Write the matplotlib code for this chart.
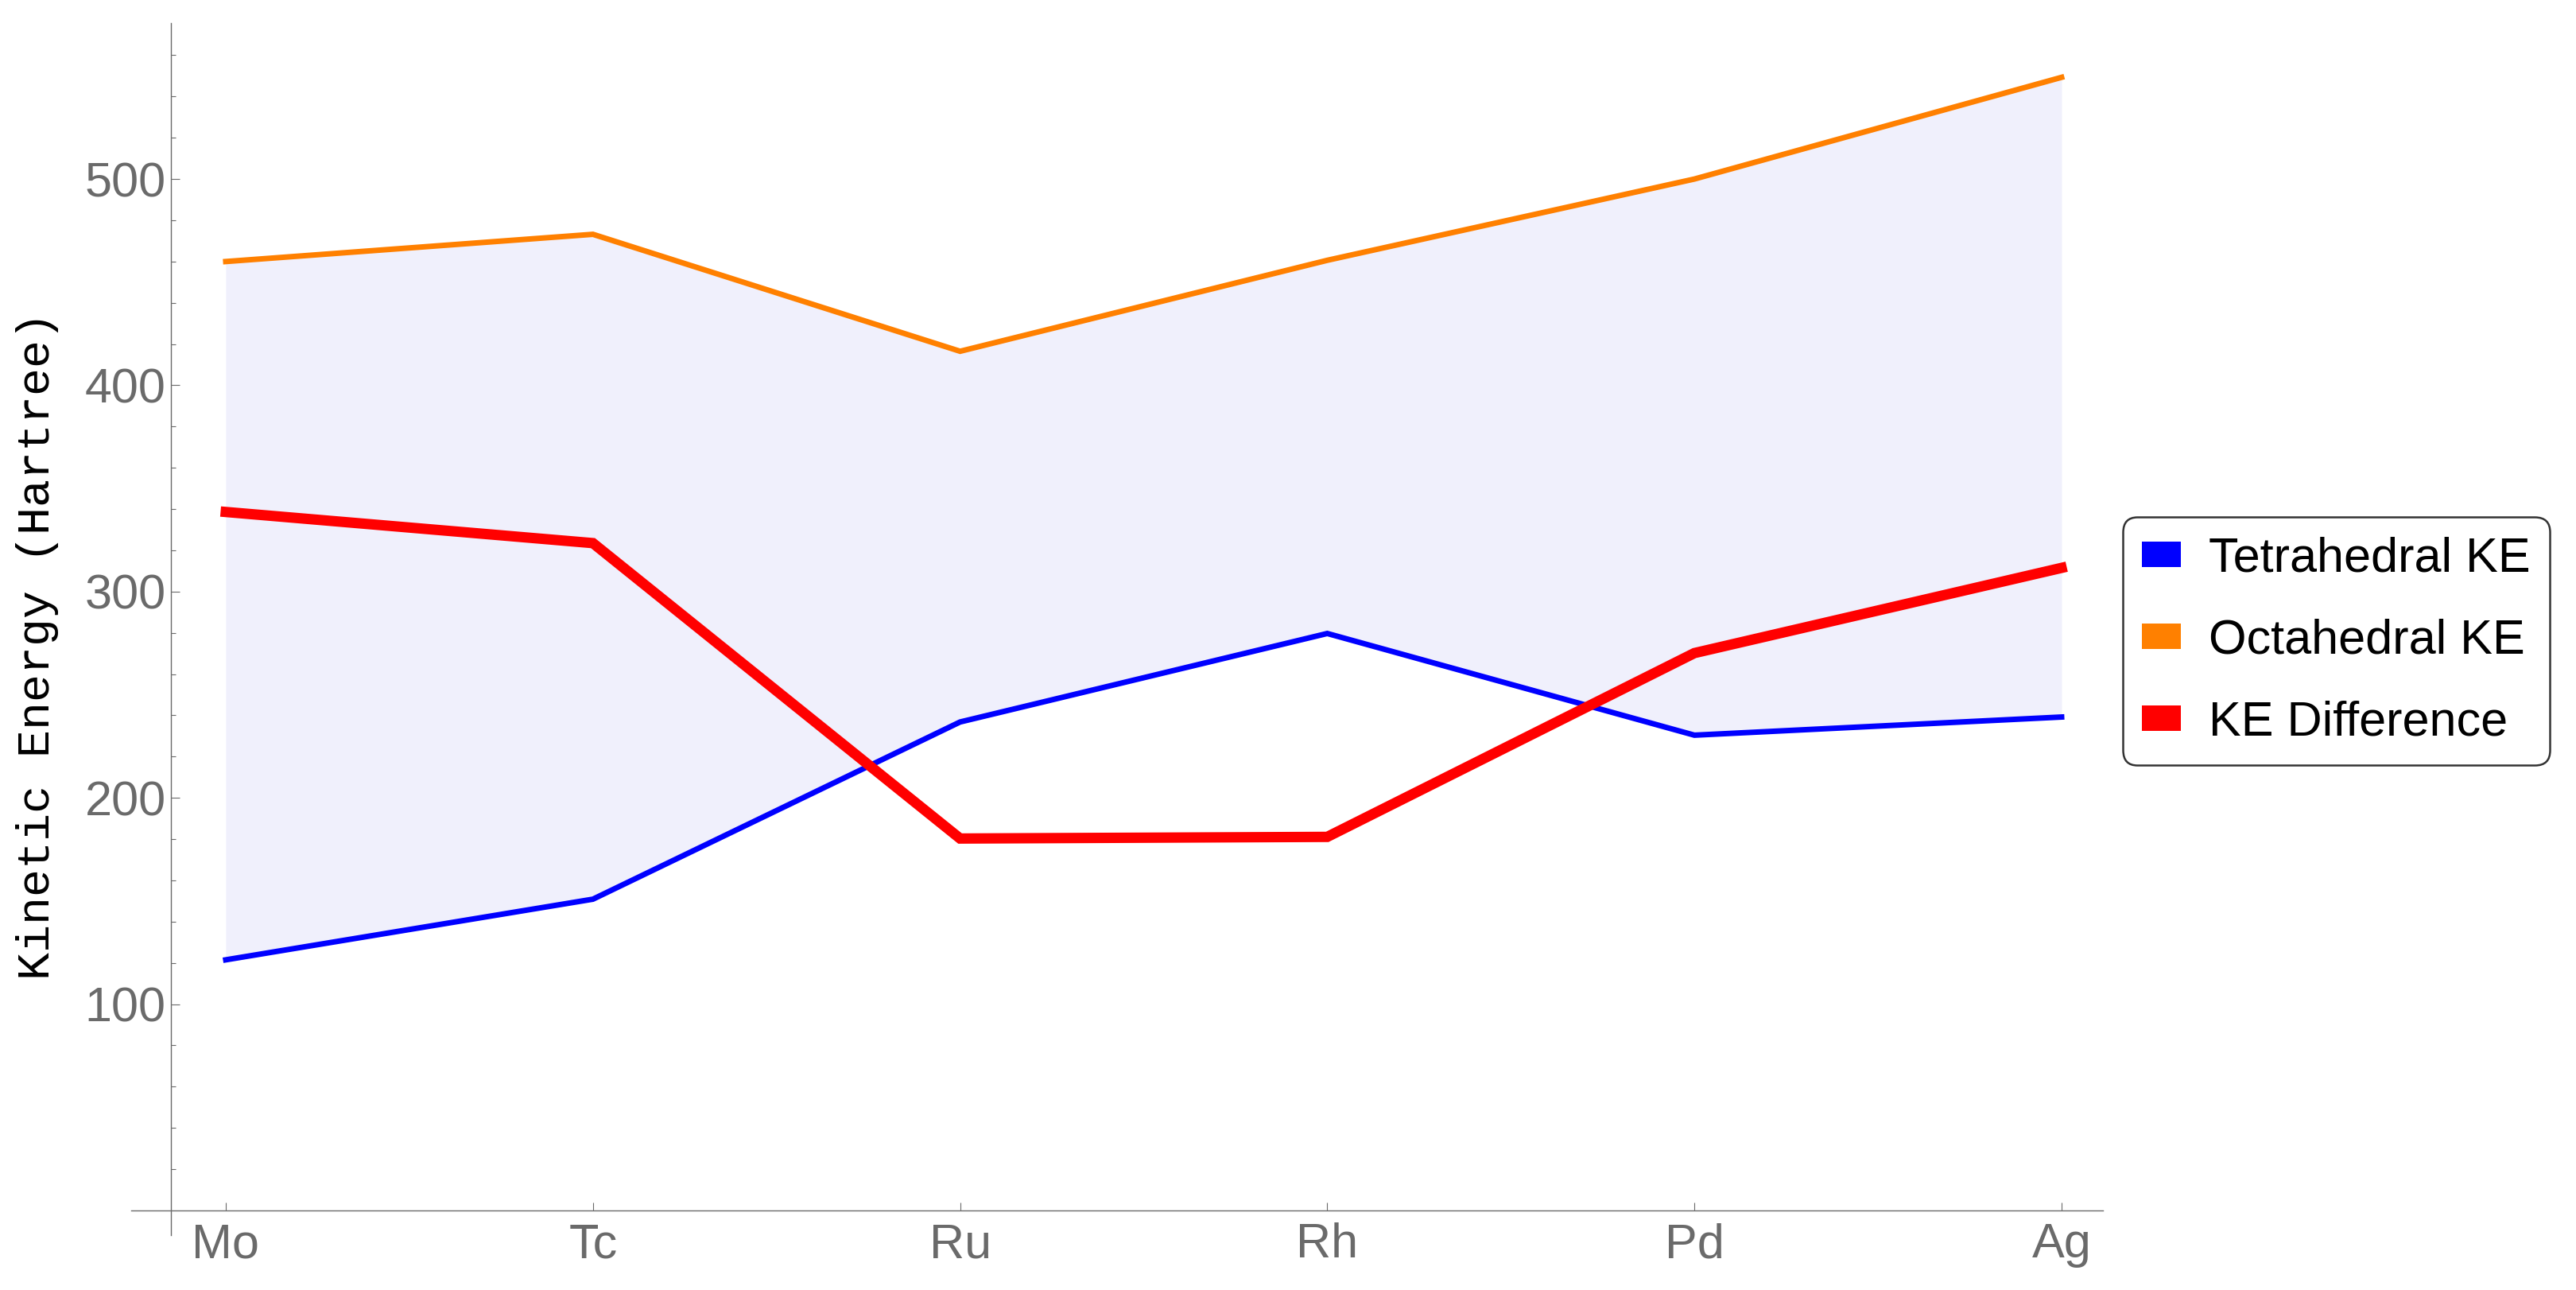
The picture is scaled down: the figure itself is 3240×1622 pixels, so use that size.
import numpy as np
import matplotlib
matplotlib.use("Agg")
import matplotlib.pyplot as plt
from matplotlib.patches import Patch

# data
elements = ['Mo', 'Tc', 'Ru', 'Rh', 'Pd', 'Ag']
tetra_ke = [121.5, 150.9, 236.8, 279.7, 230.4, 239.2]
octa_ke = [460.0, 473.2, 416.5, 460.6, 500.0, 549.3]
ke_diff = [338.6, 323.5, 180.3, 181.1, 270.2, 311.5]

y_major = [100, 200, 300, 400, 500]
y_minor = [v for v in range(20, 561, 20) if v % 100 != 0]

plt.rcParams['font.family'] = ['Liberation Sans', 'DejaVu Sans']
gray = '#6a6a6a'

fig = plt.figure(figsize=(32.4, 16.22), dpi=100)
ax = fig.add_axes([165 / 3240, 1 - 1553 / 1622, 2480 / 3240, 1524 / 1622])

x = np.arange(len(elements))
ax.fill_between(x, tetra_ke, octa_ke, color='#F0F0FC', lw=0, zorder=1)
ax.plot(x, tetra_ke, color='#0000FF', lw=5, solid_capstyle='projecting',
        solid_joinstyle='miter', zorder=3)
ax.plot(x, octa_ke, color='#FF8000', lw=5, solid_capstyle='projecting',
        solid_joinstyle='miter', zorder=3)
ax.plot(x, ke_diff, color='#FF0000', lw=9.4, solid_capstyle='projecting',
        solid_joinstyle='miter', zorder=4)

ax.set_xlim(-0.2576, 5.1126)
ax.set_ylim(-11.95, 575.6)

for s in ['top', 'right']:
    ax.spines[s].set_visible(False)
ax.spines['left'].set_position(('data', -0.1494))
ax.spines['bottom'].set_position(('data', 0))
for s in ['left', 'bottom']:
    ax.spines[s].set_color(gray)
    ax.spines[s].set_linewidth(1.0)

ax.set_xticks(x)
ax.set_xticklabels(elements)
ax.set_yticks(y_major)
ax.set_yticks(y_minor, minor=True)
ax.tick_params(axis='x', direction='in', length=7.2, width=0.8, color=gray,
               labelcolor=gray, labelsize=44, pad=11)
ax.tick_params(axis='y', which='major', direction='in', length=7.9, width=0.8,
               color=gray, labelcolor=gray, labelsize=44, pad=4.5)
ax.tick_params(axis='y', which='minor', direction='in', length=4.3, width=0.8,
               color=gray)
ax.tick_params(axis='x', which='minor', bottom=False)

fig.text(47 / 3240, 1 - 812 / 1622, 'Kinetic Energy (Hartree)', rotation=90,
         ha='center', va='center', fontsize=42, family='Liberation Mono')

handles = [Patch(facecolor='#0000FF', edgecolor='none'),
           Patch(facecolor='#FF8000', edgecolor='none'),
           Patch(facecolor='#FF0000', edgecolor='none')]
leg = fig.legend(handles, ['Tetrahedral KE', 'Octahedral KE', 'KE Difference'],
                 loc='center left', bbox_to_anchor=(2670 / 3240, 1 - 806 / 1622),
                 fontsize=44, frameon=True, fancybox=True, borderpad=0.4,
                 handlelength=0.8, handleheight=0.43, handletextpad=0.56,
                 labelspacing=0.75, borderaxespad=0)
frame = leg.get_frame()
frame.set_edgecolor('black')
frame.set_linewidth(1.8)
frame.set_boxstyle('round', pad=0, rounding_size=0.3)

fig.savefig('out.png', dpi=100)
